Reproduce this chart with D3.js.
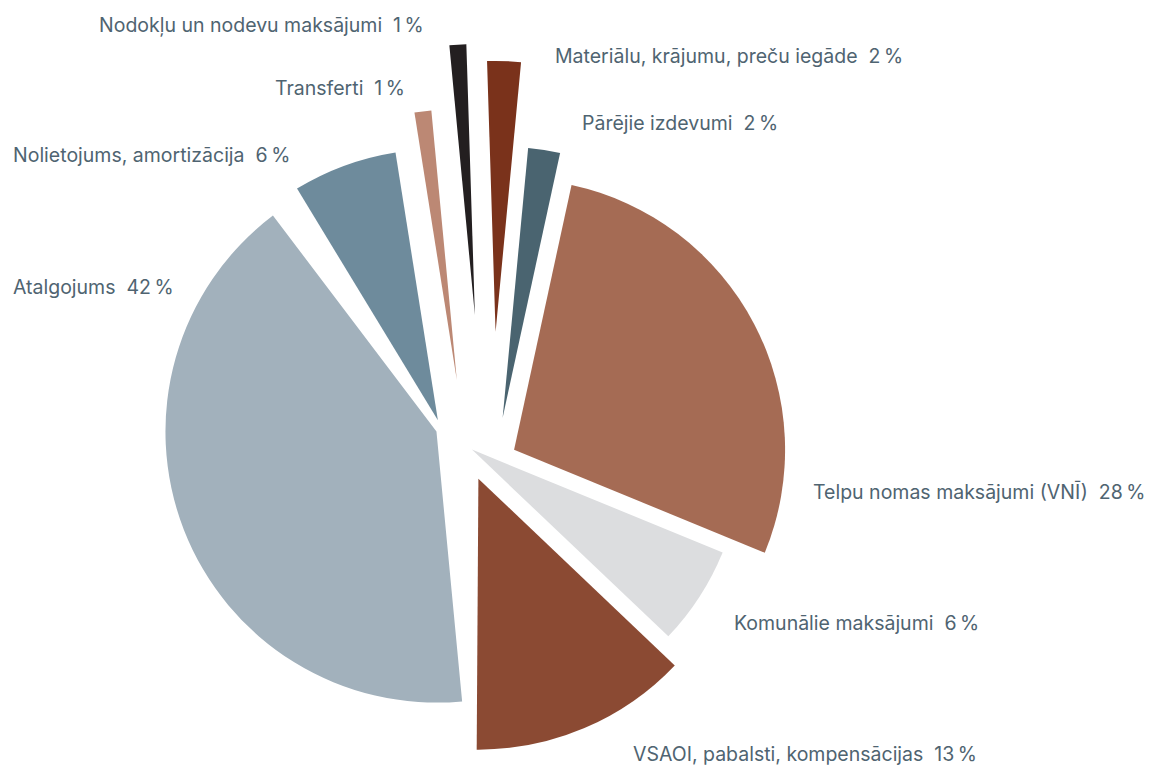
<!DOCTYPE html>
<html>
<head>
<meta charset="utf-8">
<script src="https://cdn.jsdelivr.net/npm/d3@7"></script>
<style>
  body { margin: 0; background: #fff; }
  .label { font-family: Inter, "Noto Sans", sans-serif; font-size: 19.5px; fill: #4f6471; }
</style>
</head>
<body>
<div id="chart"></div>
<script>
// slices in drawing order, clockwise starting just left of 12 o'clock
var categories = ["Transferti", "Nodokļu un nodevu maksājumi", "Materiālu, krājumu, preču iegāde",
    "Pārējie izdevumi", "Telpu nomas maksājumi (VNĪ)", "Komunālie maksājumi",
    "VSAOI, pabalsti, kompensācijas", "Atalgojums", "Nolietojums, amortizācija"];
var shares = [1.0, 1.0, 2.0, 1.9, 27.8, 5.9, 13.0, 41.2, 6.2];
var labelPct = [1, 1, 2, 2, 28, 6, 13, 42, 6];

// styling per slice
var colors = ["#bc8874", "#231f20", "#7a321b", "#4a6470", "#a56b54", "#dcdddf", "#8b4a33", "#a2b1bc", "#6e8b9c"];
var explode = [65, 129, 114, 33, 43, 10, 37, 22, 32];   // push out along the slice's middle
var slide = [2, 20, 29, 35, 28, -1, -1, 20, -15];       // push sideways (clockwise)
var tilt = [0, 0, 0, 0, 0, 0, 0, -5.8, 0];              // extra turn in degrees
var labelX = [275, 99, 555, 582, 813, 734, 633, 13, 13];
var labelY = [95, 32, 63, 130, 499, 630, 761, 294, 162];

var width = 1152, height = 767;
var cx = 463, cy = 445, radius = 271;

var svg = d3.select("#chart").append("svg")
    .attr("width", width)
    .attr("height", height);

var pie = d3.pie()
    .sort(null)
    .value(function(d) { return d; })
    .startAngle(-9 * Math.PI / 180)
    .endAngle(351 * Math.PI / 180);

var arc = d3.arc().innerRadius(0).outerRadius(radius);

svg.selectAll("path.slice")
    .data(pie(shares))
    .enter().append("path")
    .attr("class", "slice")
    .attr("d", arc)
    .attr("fill", function(d, i) { return colors[i]; })
    .attr("transform", function(d, i) {
        var a = (d.startAngle + d.endAngle) / 2;
        var dx = explode[i] * Math.sin(a) + slide[i] * Math.cos(a);
        var dy = -explode[i] * Math.cos(a) + slide[i] * Math.sin(a);
        return "translate(" + (cx + dx) + "," + (cy + dy) + ") rotate(" + tilt[i] + ")";
    });

svg.selectAll("text.label")
    .data(categories)
    .enter().append("text")
    .attr("class", "label")
    .attr("x", function(d, i) { return labelX[i]; })
    .attr("y", function(d, i) { return labelY[i]; })
    .text(function(d, i) { return d + "\u00a0\u00a0" + labelPct[i] + "\u2009%"; });
</script>
</body>
</html>
